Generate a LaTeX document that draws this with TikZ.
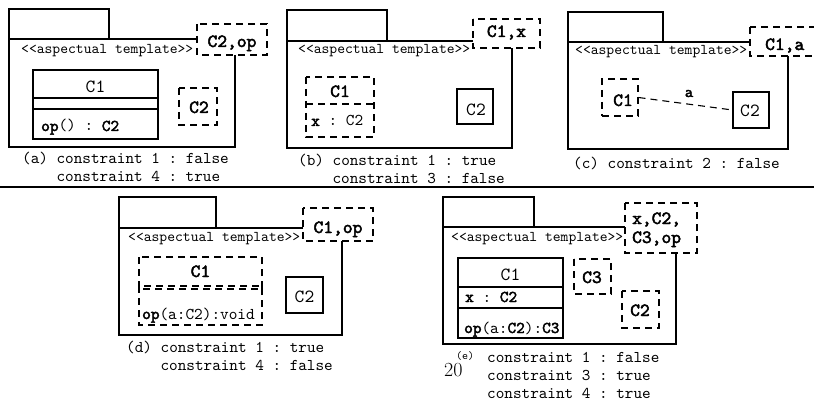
\documentclass[tikz,border=0pt]{standalone}
\usepackage{fontspec}
\setmonofont{lmmono10-regular.otf}[BoldFont=lmmono10-regular.otf, BoldFeatures={FakeBold=2.5}]
\newcommand{\fCap}{\fontsize{16.4}{18}\selectfont\ttfamily}
\newcommand{\fTpl}{\fontsize{14.9}{16}\selectfont\ttfamily}
\newcommand{\fName}{\fontsize{18.6}{20}\selectfont\ttfamily}
\newcommand{\fBig}{\fontsize{18.6}{20}\selectfont\ttfamily\bfseries}
\newcommand{\fCls}{\fontsize{16.5}{18}\selectfont\ttfamily}
\tikzset{
  sl/.style={line width=1.1pt},
  dl/.style={line width=1.1pt, dash pattern=on 7pt off 5pt},
  txt/.style={inner sep=0pt, anchor=base west},
  ctxt/.style={inner sep=0pt, anchor=base},
  dnode/.style={dl, draw, inner sep=0pt},
  snode/.style={sl, draw, inner sep=0pt},
}
\begin{document}
\begin{tikzpicture}[x=1pt,y=-1pt]
\useasboundingbox (0,0) rectangle (814,401);
% ---------------- (a)
\draw[sl] (9,9) rectangle (109,39);
\draw[sl] (197,39) -- (9,39) -- (9,147) -- (235,147) -- (235,55);
\draw[dl] (197,24) rectangle (267,55);
\node[ctxt,font=\fBig] (apar) at (232,47) {C2,op};
\node[txt,font=\fTpl] (atpl) at (21,54) {<<aspectual template>>};
\draw[sl] (33,70) rectangle (158,139);
\draw[sl] (33,98) -- (158,98) (33,109) -- (158,109);
\node[ctxt,font=\fName] (ac1) at (95.5,93) {C1};
\node[txt,font=\fCls] (aop) at (41,131) {\textbf{op}() : \textbf{C2}};
\draw[dl] (179,88) rectangle (217,125);
\node[ctxt,font=\fBig] (ac2) at (199,113) {C2};
\node[txt,font=\fCap] (acap1) at (22,164) {(a) constraint 1 : false};
\node[txt,font=\fCap] (acap2) at (56.4,182) {constraint 4 : true};
% ---------------- (b)
\draw[sl] (287,10) rectangle (387,41);
\draw[sl] (473,41) -- (287,41) -- (287,148) -- (512,148) -- (512,48);
\draw[dl] (473,19) rectangle (540,48);
\node[ctxt,font=\fBig] (bpar) at (506.5,37) {C1,x};
\node[txt,font=\fTpl] (btpl) at (298,54) {<<aspectual template>>};
\draw[dl] (306,77) rectangle (374,137);
\draw[dl] (306,104) -- (374,104);
\node[ctxt,font=\fBig] (bc1) at (340,97) {C1};
\node[txt,font=\fCls] (bx) at (311,126) {\textbf{x} : C2};
\draw[sl] (457,89) rectangle (493,124);
\node[ctxt,font=\fName] (bc2) at (476,116) {C2};
\node[txt,font=\fCap] (bcap1) at (298,166) {(b) constraint 1 : true};
\node[txt,font=\fCap] (bcap2) at (332.4,183) {constraint 3 : false};
% ---------------- (c)
\draw[sl] (568,12) rectangle (663,42);
\draw[sl] (750,42) -- (568,42) -- (568,149) -- (788,149) -- (788,56);
\draw[dl] (750,27) rectangle (826,56);
\node[txt,font=\fBig] (cpar) at (765,50) {C1,a};
\node[txt,font=\fTpl] (ctpl) at (575,55) {<<aspectual template>>};
\node[dnode, minimum width=36pt, minimum height=37pt] (cc1box) at (620,97.5) {};
\node[snode, minimum width=36pt, minimum height=36pt] (cc2box) at (751,110) {};
\draw[dl] (cc1box.east) -- (cc2box.west);
\node[ctxt,font=\fontsize{16}{18}\selectfont\ttfamily\bfseries] (ca) at (689,97) {a};
\node[ctxt,font=\fBig] (cc1) at (623,106) {C1};
\node[ctxt,font=\fName] (cc2) at (750,117) {C2};
\node[txt,font=\fCap] (ccap1) at (573,168) {(c) constraint 2 : false};
% ---------------- separator
\coordinate (sepl) at (0,187);
\coordinate (sepr) at (814,187);
\draw[line width=2.5pt] (sepl) -- (sepr);
% ---------------- (d)
\draw[sl] (119,197) rectangle (216,228);
\draw[sl] (303,228) -- (119,228) -- (119,335) -- (342,335) -- (342,241);
\draw[dl] (303,208) rectangle (373,241);
\node[ctxt,font=\fBig] (dpar) at (338,233) {C1,op};
\node[txt,font=\fTpl] (dtpl) at (128,241) {<<aspectual template>>};
\draw[dl] (139,257) rectangle (262,289);
\draw[dl] (139,286) rectangle (262,325);
\node[ctxt,font=\fBig] (dc1) at (200.5,277) {C1};
\node[txt,font=\fCls] (dop) at (142,319) {\textbf{op}(a:C2):void};
\draw[sl] (286,277) rectangle (323,313);
\node[ctxt,font=\fName] (dc2) at (304.5,302) {C2};
\node[txt,font=\fCap] (dcap1) at (126,352) {(d) constraint 1 : true};
\node[txt,font=\fCap] (dcap2) at (160.4,370) {constraint 4 : false};
% ---------------- (e)
\draw[sl] (443,197) rectangle (534,227);
\draw[sl] (625,227) -- (443,227) -- (443,344) -- (676,344) -- (676,253);
\draw[dl] (625,203) rectangle (697,253);
\node[txt,font=\fBig] (epar1) at (632,224) {x,C2,};
\node[txt,font=\fBig] (epar2) at (632,243) {C3,op};
\node[txt,font=\fTpl] (etpl) at (451,241) {<<aspectual template>>};
\draw[sl] (458,258) rectangle (563,338);
\draw[sl] (458,287) -- (563,287) (458,308) -- (563,308);
\node[ctxt,font=\fName] (ec1) at (510.5,280) {C1};
\node[txt,font=\fCls] (ex) at (465,302) {\textbf{x} : \textbf{C2}};
\node[txt,font=\fCls] (eop) at (464,333) {\textbf{op}(a:\textbf{C2}):\textbf{C3}};
\draw[dl] (574,259) rectangle (611,294);
\node[ctxt,font=\fBig] (ec3) at (592,283) {C3};
\draw[dl] (622,291) rectangle (659,328);
\node[ctxt,font=\fBig] (ec2) at (640,316) {C2};
\node[txt,font=\fontsize{20}{24}\selectfont\rmfamily] (epage) at (444,376) {20};
\node[txt,font=\fontsize{11.4}{13}\selectfont\ttfamily] (elab) at (456,359) {(e)};
\node[txt,font=\fCap] (ecap1) at (487,362) {constraint 1 : false};
\node[txt,font=\fCap] (ecap2) at (487,380) {constraint 3 : true};
\node[txt,font=\fCap] (ecap3) at (487,398) {constraint 4 : true};
\end{tikzpicture}
\end{document}
